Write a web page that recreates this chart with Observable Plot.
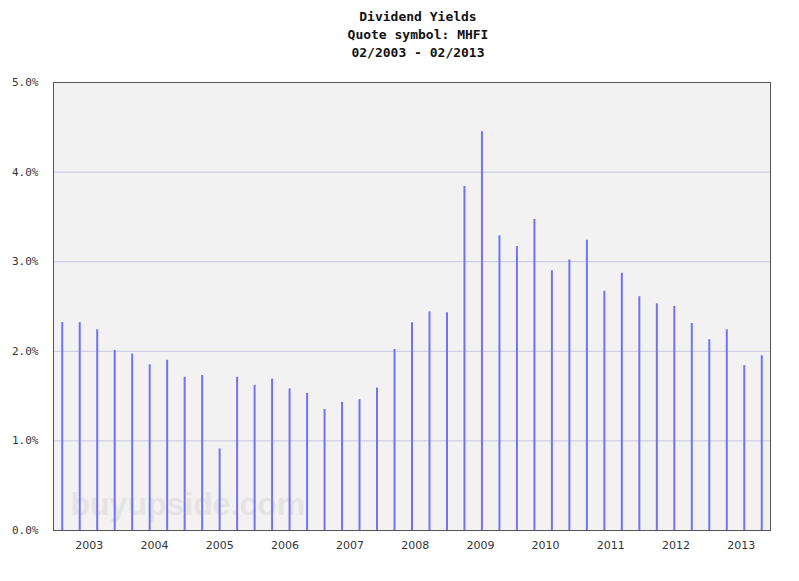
<!DOCTYPE html>
<html>
<head>
<meta charset="utf-8">
<script src="https://cdn.jsdelivr.net/npm/d3@7"></script>
<script src="https://cdn.jsdelivr.net/npm/@observablehq/plot@0.6"></script>
<style>
  body { margin: 0; background: #fff; width: 799px; height: 581px; overflow: hidden; position: relative; }
  #title { position: absolute; left: 418px; top: 8px; transform: translateX(-50%); text-align: center;
           font-family: "DejaVu Sans Mono", monospace; font-weight: bold; font-size: 13px; line-height: 18px; color: #111; white-space: nowrap; }
  #chart { position: absolute; left: 0; top: 60px; }
</style>
</head>
<body>
<div id="title"></div>
<div id="chart"></div>
<script>
const titleLines = ["Dividend Yields", "Quote symbol: MHFI", "02/2003 - 02/2013"];
const years = ["2003","2004","2005","2006","2007","2008","2009","2010","2011","2012","2013"];
const yTicks = [0, 1, 2, 3, 4, 5];
const gridLines = [1, 2, 3, 4];
const yields = [2.32, 2.32, 2.24, 2.01, 1.97, 1.85, 1.90, 1.71, 1.73, 0.91,
                1.71, 1.62, 1.69, 1.58, 1.53, 1.35, 1.43, 1.46, 1.59, 2.02,
                2.32, 2.44, 2.43, 3.84, 4.45, 3.29, 3.17, 3.47, 2.90, 3.02,
                3.24, 2.67, 2.87, 2.61, 2.53, 2.50, 2.31, 2.13, 2.24, 1.84, 1.95];
const watermark = "buyupside.com";

document.getElementById("title").innerHTML = titleLines.map(t => `<div>${t}</div>`).join("");

const n = yields.length;
const data = yields.map((v, i) => ({pos: i + 0.5, v}));
const yearTicks = years.map((_, j) => (j + 0.55) * n / years.length);

const chart = Plot.plot({
  width: 799,
  height: 521,
  marginTop: 22,
  marginBottom: 51,
  marginLeft: 53,
  marginRight: 29,
  style: {background: "transparent", color: "#333"},
  x: {domain: [0, n]},
  y: {domain: [0, 5]},
  marks: [
    Plot.frame({fill: "#f2f2f2"}),
    Plot.text([watermark], {text: d => d, frameAnchor: "bottom-left", textAnchor: "start", lineAnchor: "bottom",
      dx: 17, dy: -16, fontSize: 32, fontWeight: "bold", fill: "#e4e4e4", fontFamily: "Liberation Sans, Arial, sans-serif"}),
    Plot.ruleY(gridLines, {stroke: "#c6c6e2", strokeWidth: 1}),
    Plot.ruleX(data, {x: "pos", y1: 0, y2: "v", stroke: "#7272f8", strokeWidth: 2}),
    Plot.frame({stroke: "#555", strokeWidth: 1}),
    Plot.axisY({ticks: yTicks, tickSize: 0, tickPadding: 15, tickFormat: d => d.toFixed(1) + "%",
      fontFamily: "DejaVu Sans Mono, monospace", fontSize: 11, label: null}),
    Plot.axisX({ticks: yearTicks, tickSize: 0, tickPadding: 11, tickFormat: (d, i) => years[i],
      fontFamily: "DejaVu Sans, sans-serif", fontSize: 11, label: null})
  ]
});
document.getElementById("chart").appendChild(chart);
</script>
</body>
</html>
